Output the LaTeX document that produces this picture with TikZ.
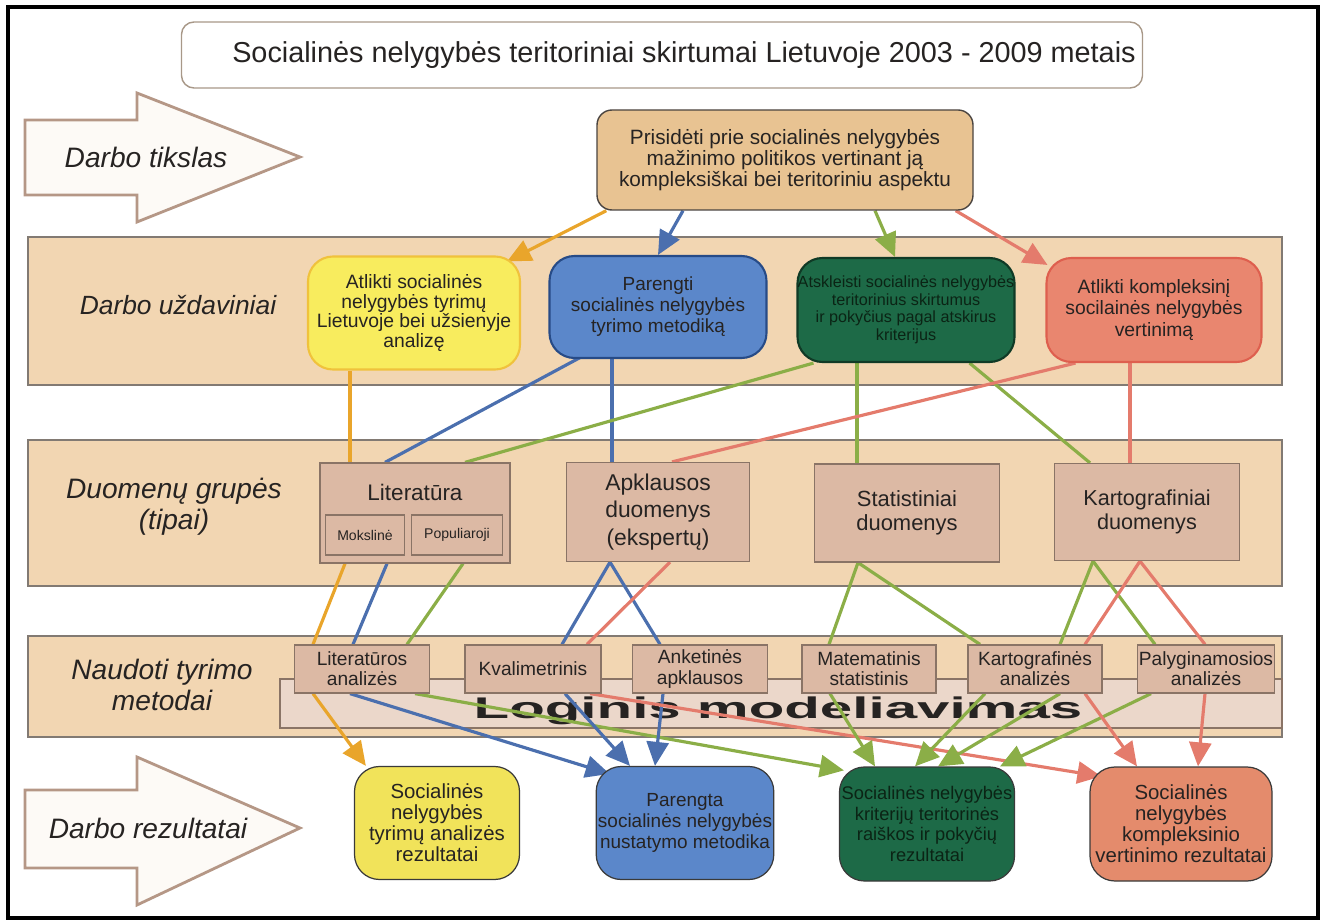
\documentclass[tikz,border=0pt]{standalone}
\usepackage{fontspec}
\setmainfont{Liberation Sans}
\usetikzlibrary{arrows.meta,calc}
\definecolor{txt}{HTML}{262322}
\definecolor{bandfill}{HTML}{F2D6B2}
\definecolor{bandline}{HTML}{827A73}
\definecolor{arrowline}{HTML}{B59786}
\definecolor{arrowfill}{HTML}{FDFAF6}
\definecolor{titleline}{HTML}{A89888}
\definecolor{goalfill}{HTML}{E8C392}
\definecolor{goalline}{HTML}{4A4440}
\definecolor{datafill}{HTML}{DCB9A4}
\definecolor{dataline}{HTML}{8A7466}
\definecolor{logicfill}{HTML}{EBD7CA}
\definecolor{yfill}{HTML}{F8EC5E}
\definecolor{yline}{HTML}{F0C23C}
\definecolor{yresfill}{HTML}{F1E35A}
\definecolor{bfill}{HTML}{5B87CA}
\definecolor{bline}{HTML}{274B87}
\definecolor{gfill}{HTML}{1D6A47}
\definecolor{gline}{HTML}{103A26}
\definecolor{gtxt}{HTML}{0B2415}
\definecolor{rfill}{HTML}{E9866F}
\definecolor{rline}{HTML}{DE5F4E}
\definecolor{rresfill}{HTML}{E48B6C}
\definecolor{resline}{HTML}{3A3A3A}
\definecolor{corange}{HTML}{E9A52B}
\definecolor{cblue}{HTML}{4B6FAE}
\definecolor{cgreen}{HTML}{8BAE47}
\definecolor{cred}{HTML}{E47B6C}
\pgfdeclarelayer{bg}
\pgfsetlayers{bg,main}

\begin{document}
\begin{tikzpicture}[x=0.2mm, y=-0.2mm,
    band/.style={draw=bandline, fill=bandfill, line width=0.6pt},
    bigarrow/.style={draw=arrowline, fill=arrowfill, line width=1.6pt},
    rowlabel/.style={font=\fontsize{16}{17.5}\selectfont\itshape, align=center, text=txt},
    titlebox/.style={draw=titleline, fill=white, rounded corners=2.5mm, line width=0.8pt, minimum width=192.2mm, minimum height=13.2mm, font=\fontsize{16.4}{18}\selectfont, text=txt},
    goalbox/.style={draw=goalline, fill=goalfill, rounded corners=3mm, line width=0.8pt, minimum width=75.2mm, minimum height=20mm, align=center, font=\fontsize{11.8}{11.8}\selectfont, text=txt},
    taskbox/.style={rounded corners=5mm, line width=1.2pt, minimum width=43.4mm, minimum height=20.8mm, align=center, inner sep=1pt, font=\fontsize{11}{11.3}\selectfont, text=txt},
    databox/.style={draw=dataline, fill=datafill, line width=0.7pt, minimum width=37mm, minimum height=19.8mm, align=center, font=\fontsize{12.3}{14}\selectfont, text=txt},
    subbox/.style={draw=dataline, fill=datafill, line width=0.7pt, minimum width=15.8mm, minimum height=8mm, inner sep=1pt, font=\fontsize{8}{9}\selectfont, text=txt},
    methodbox/.style={draw=dataline, fill=datafill, line width=0.7pt, minimum width=27mm, minimum height=9.6mm, align=center, inner sep=1pt, font=\fontsize{10.9}{11.5}\selectfont, text=txt},
    resultbox/.style={draw=resline, rounded corners=5mm, line width=0.7pt, minimum height=22.8mm, align=center, inner sep=1pt, font=\fontsize{11.6}{12}\selectfont, text=txt},
    link/.style={line width=1.8pt},
    flow/.style={line width=1.8pt, -{Triangle[length=4.8mm,width=4.4mm]}}]

\useasboundingbox (0,0) rectangle (1324,924);
\draw[line width=2pt] (8,7) rectangle (1318,918);

\node[titlebox] (title) at (662,55) {\hspace*{8.8mm}Socialinės nelygybės teritoriniai skirtumai Lietuvoje 2003 - 2009 metais};

\draw[bigarrow] (25,120) -- (137,120) -- (137,93) -- (300,157) -- (137,222) -- (137,195) -- (25,195) -- cycle;
\draw[bigarrow] (25,790) -- (137,790) -- (137,757) -- (300,828) -- (137,905) -- (137,868) -- (25,868) -- cycle;
\node[rowlabel] (lblgoal) at (146,157) {Darbo tikslas};
\node[rowlabel] (lblres) at (148,828) {Darbo rezultatai};

\node[goalbox] (goal) at (785,160) {Prisidėti prie socialinės nelygybės\\mažinimo politikos vertinant ją\\kompleksiškai bei teritoriniu aspektu};

\node[taskbox, draw=yline, fill=yfill, minimum width=42.4mm, minimum height=22.6mm] (ytask) at (414,313) {Atlikti socialinės\\nelygybės tyrimų\\Lietuvoje bei užsienyje\\analizę};
\node[taskbox, draw=bline, fill=bfill, minimum height=20.4mm, font=\fontsize{10.8}{12}\selectfont] (btask) at (658,307) {Parengti\\socialinės nelygybės\\tyrimo metodiką};
\node[taskbox, draw=gline, fill=gfill, text=gtxt, inner sep=0pt, font=\fontsize{9.2}{10}\selectfont] (gtask) at (906,310) {Atskleisti socialinės nelygybės\\teritorinius skirtumus\\ir pokyčius pagal atskirus\\kriterijus};
\node[taskbox, draw=rline, fill=rfill, minimum width=43mm, font=\fontsize{11}{12.2}\selectfont] (rtask) at (1154,310) {Atlikti kompleksinį\\socilainės nelygybės\\vertinimą};

\node[databox, minimum width=38mm, minimum height=20mm] (lit) at (415,513) {};
\node[font=\fontsize{12.8}{14}\selectfont, text=txt] (littitle) at (415,492) {Literatūra};
\node[subbox] (mok) at (365,535) {Mokslinė};
\node[subbox, minimum width=18.2mm] (pop) at (457,535) {Populiaroji};
\node[databox, minimum width=36.6mm, font=\fontsize{13}{15.5}\selectfont] (apk) at (658,512) {Apklausos\\duomenys\\(ekspertų)};
\node[databox, minimum height=19.6mm, font=\fontsize{12.5}{14}\selectfont] (stat) at (907,513) {Statistiniai\\duomenys};
\node[databox, minimum height=19.4mm] (kart) at (1147,512) {Kartografiniai\\duomenys};

\node[methodbox] (litan) at (362,669) {Literatūros\\analizės};
\node[methodbox, minimum width=27.2mm] (kval) at (533,669) {Kvalimetrinis};
\node[methodbox] (anket) at (700,669) {Anketinės\\apklausos};
\node[methodbox, minimum width=26.8mm] (mat) at (869,669) {Matematinis\\statistinis};
\node[methodbox, minimum width=26.8mm] (kartan) at (1035,669) {Kartografinės\\analizės};
\node[methodbox, minimum width=27.4mm] (palyg) at (1206,669) {Palyginamosios\\analizės};

\node[resultbox, fill=yresfill, minimum width=33mm, minimum height=22.6mm] (yres) at (437,823) {Socialinės\\nelygybės\\tyrimų analizės\\rezultatai};
\node[resultbox, fill=bfill, minimum width=35.2mm, minimum height=22.6mm, font=\fontsize{10.8}{12}\selectfont] (bres) at (685,823) {Parengta\\socialinės nelygybės\\nustatymo metodika};
\node[resultbox, fill=gfill, text=gtxt, minimum width=35mm, font=\fontsize{10.4}{11.8}\selectfont] (gres) at (927,824) {Socialinės nelygybės\\kriterijų teritorinės\\raiškos ir pokyčių\\rezultatai};
\node[resultbox, fill=rresfill, minimum width=36.4mm] (rres) at (1181,824) {Socialinės\\nelygybės\\kompleksinio\\vertinimo rezultatai};

\begin{pgfonlayer}{bg}
\draw[band] (28,237) rectangle (1282,385);
\draw[band] (28,440) rectangle (1282,586);
\draw[band] (28,636) rectangle (1282,737);
\node[rowlabel, font=\fontsize{15}{17}\selectfont\itshape] (lbltask) at (178,305) {Darbo uždaviniai};
\node[rowlabel] (lbldata) at (174,507) {Duomenų grupės\\(tipai)};
\node[rowlabel] (lblmeth) at (162,685) {Naudoti tyrimo\\metodai};
\node[draw=dataline, fill=logicfill, line width=0.7pt, minimum width=200.4mm, minimum height=9.8mm] (logic) at (781,703.5) {};
\node[font=\fontsize{17}{20}\selectfont\bfseries, text=txt] (logictext) at (778,711) {\scalebox{1.95}[1]{Loginis modeliavimas}};

\draw[flow, corange] ($(goal.south west)+(10,0)$) -- ($(ytask.north east)+(-14,6)$);
\draw[flow, cblue] ($(goal.south)+(-102,0)$) -- (btask.north);
\draw[flow, cgreen] ($(goal.south)+(90,0)$) -- ($(gtask.north)+(-11,0)$);
\draw[flow, cred] ($(goal.south east)+(-18,0)$) -- ($(rtask.north west)+(2,8)$);

\draw[link, corange] ($(ytask.south)+(-64,0)$) -- ($(lit.north)+(-65,0)$);
\draw[link, cblue] ($(btask.south west)+(40,-6)$) -- ($(lit.north)+(-30,0)$);
\draw[link, cblue] ($(btask.south)+(-46,0)$) -- ($(apk.north)+(-46,0)$);
\draw[link, cgreen] ($(gtask.south west)+(17,0)$) -- ($(lit.north)+(50,0)$);
\draw[link, cgreen] ($(gtask.south)+(-49,0)$) -- ($(stat.north)+(-50,0)$);
\draw[link, cgreen] ($(gtask.south east)+(-46,0)$) -- ($(kart.north)+(-57,0)$);
\draw[link, cred] ($(rtask.south west)+(30,0)$) -- ($(apk.north)+(14,0)$);
\draw[link, cred] ($(rtask.south)+(-24,0)$) -- ($(kart.north)+(-17,0)$);

\draw[link, corange] ($(lit.south)+(-70,0)$) -- ($(litan.north)+(-49,0)$);
\draw[link, cblue] ($(lit.south)+(-28,0)$) -- ($(litan.north)+(-9,0)$);
\draw[link, cgreen] ($(lit.south)+(48,0)$) -- ($(litan.north)+(45,0)$);
\draw[link, cblue] ($(apk.south)+(-48,0)$) -- ($(kval.north)+(29,0)$);
\draw[link, cblue] ($(apk.south)+(-48,0)$) -- ($(anket.north)+(-40,0)$);
\draw[link, cred] ($(apk.south)+(12,0)$) -- ($(kval.north)+(54,0)$);
\draw[link, cgreen] ($(stat.south)+(-49,0)$) -- ($(mat.north)+(-40,0)$);
\draw[link, cgreen] ($(stat.south)+(-49,0)$) -- ($(kartan.north)+(-55,0)$);
\draw[link, cgreen] ($(kart.south)+(-54,0)$) -- ($(kartan.north)+(25,0)$);
\draw[link, cgreen] ($(kart.south)+(-54,0)$) -- ($(palyg.north)+(-51,0)$);
\draw[link, cred] ($(kart.south)+(-7,0)$) -- ($(kartan.north)+(50,0)$);
\draw[link, cred] ($(kart.south)+(-7,0)$) -- ($(palyg.north)+(-1,0)$);

\draw[flow, corange] ($(litan.south)+(-49,0)$) -- ($(yres.north west)+(12,0)$);
\draw[flow, cblue] ($(litan.south)+(-12,0)$) -- ($(bres.north west)+(14,8)$);
\draw[flow, cgreen] ($(litan.south)+(53,0)$) -- ($(gres.north west)+(5,4)$);
\draw[flow, cblue] ($(kval.south)+(32,0)$) -- ($(bres.north)+(-55,0)$);
\draw[flow, cblue] ($(anket.south)+(-37,0)$) -- ($(bres.north)+(-30,0)$);
\draw[flow, cred] ($(kval.south)+(57,0)$) -- ($(rres.north west)+(12,10)$);
\draw[flow, cgreen] ($(mat.south)+(-39,0)$) -- ($(gres.north)+(-52,0)$);
\draw[flow, cgreen] ($(kartan.south)+(-50,0)$) -- ($(gres.north)+(-12,0)$);
\draw[flow, cgreen] ($(kartan.south)+(25,0)$) -- ($(gres.north)+(11,0)$);
\draw[flow, cgreen] ($(palyg.south)+(-55,0)$) -- ($(gres.north)+(73,0)$);
\draw[flow, cred] ($(kartan.south)+(50,0)$) -- ($(rres.north)+(-44,0)$);
\draw[flow, cred] ($(palyg.south)+(-1,0)$) -- ($(rres.north)+(17,0)$);
\end{pgfonlayer}
\end{tikzpicture}
\end{document}
